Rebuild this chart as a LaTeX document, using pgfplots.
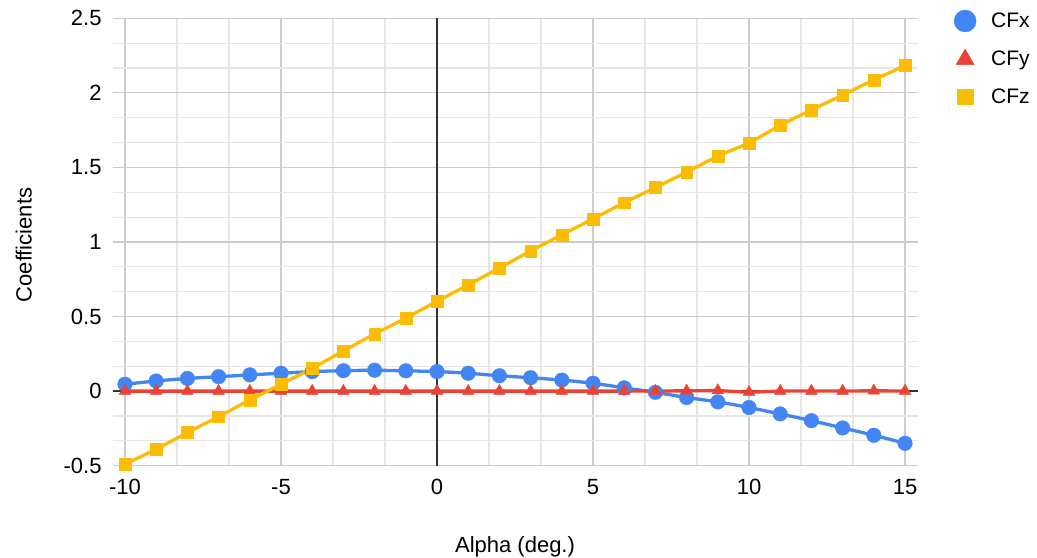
\documentclass[border=0pt]{standalone}
\usepackage{fontspec}
\setmainfont{Liberation Sans}
\usepackage{pgfplots}
\pgfplotsset{compat=1.18}
\definecolor{cfx}{HTML}{4285F4}
\definecolor{cfy}{HTML}{EA4335}
\definecolor{cfz}{HTML}{FBBC04}
\definecolor{majg}{HTML}{CCCCCC}
\definecolor{ming}{HTML}{E6E6E6}
\begin{document}
\begin{tikzpicture}
\useasboundingbox (-112.7bp,-92.3bp) rectangle (924.3bp,465.7bp);
\begin{axis}[
  scale only axis, width=805bp, height=447.4bp,
  xmin=-10.394, xmax=15.406, ymin=-0.5, ymax=2.5,
  xtick={-10,-5,...,15}, ytick={-0.5,0,...,2.5},
  minor x tick num=2, minor y tick num=2,
  grid=both,
  major grid style={majg, line width=1.1bp},
  minor grid style={ming, line width=1.1bp},
  axis line style={draw=none},
  major tick length=0pt, minor tick length=0pt,
  extra x ticks={0}, extra y ticks={0},
  extra x tick labels={}, extra y tick labels={},
  extra tick style={major grid style={black!80, line width=1.3bp}},
  ticklabel style={font=\fontsize{22bp}{26bp}\selectfont, inner sep=0pt},
  /pgf/number format/assume math mode=true,
  xticklabel style={anchor=north, yshift=-13.3bp},
  yticklabel style={anchor=east, xshift=-11bp},
  xlabel={Alpha (deg.)}, ylabel={Coefficients},
  label style={font=\fontsize{22bp}{26bp}\selectfont},
  xlabel style={at={(axis description cs:0.4998,-0.1929)}, anchor=base},
  ylabel style={at={(axis description cs:-0.1006,0.4933)}, anchor=base, rotate=0},
  legend style={draw=none, fill=none, at={(axis description cs:1.045,1.019)}, anchor=north west,
    inner sep=0pt, row sep=17bp, column sep=13bp,
    font=\fontsize{21bp}{25bp}\selectfont, nodes={inner sep=2bp}},
  legend cell align=left,
  legend image code/.code={\draw[mark repeat=2,mark phase=2,#1] plot coordinates {(0bp,0bp) (11bp,0bp) (22bp,0bp)};},
]
\addplot[cfx, line width=3.3bp, smooth, mark=*, mark size=7.3bp, mark options={solid, line width=0.4bp}, forget plot] table {
x y
-10 0.046
-9 0.068
-8 0.085
-7 0.097
-6 0.109
-5 0.120
-4 0.131
-3 0.137
-2 0.140
-1 0.136
0 0.131
1 0.120
2 0.103
3 0.090
4 0.074
5 0.053
6 0.022
7 -0.008
8 -0.043
9 -0.072
10 -0.110
11 -0.153
12 -0.198
13 -0.247
14 -0.296
15 -0.350
};
\addplot[cfy, line width=3.3bp, mark=triangle*, mark size=6.8bp, mark options={solid, line width=0.4bp}, forget plot] table {
x y
-10 0
-9 0
-8 0
-7 0
-6 0
-5 0
-4 0
-3 0
-2 0
-1 0
0 0
1 0
2 0
3 0
4 0
5 0
6 0
7 0.001
8 0.002
9 0.004
10 -0.008
11 0.001
12 0.001
13 0.001
14 0.002
15 0.001
};
\addplot[cfz, line width=3.3bp, mark=square*, mark size=5.9bp, mark options={solid, line width=0.4bp}, forget plot] table {
x y
-10 -0.490
-9 -0.390
-8 -0.278
-7 -0.171
-6 -0.059
-5 0.046
-4 0.152
-3 0.270
-2 0.384
-1 0.489
0 0.603
1 0.712
2 0.826
3 0.940
4 1.048
5 1.155
6 1.264
7 1.365
8 1.468
9 1.577
10 1.663
11 1.783
12 1.886
13 1.985
14 2.087
15 2.183
};
\addlegendimage{only marks, mark=*, cfx, mark size=11bp, mark options={line width=0.4bp}}
\addlegendentry{CFx}
\addlegendimage{only marks, mark=triangle*, cfy, mark size=10.4bp, mark options={line width=0.4bp}}
\addlegendentry{CFy}
\addlegendimage{only marks, mark=square*, cfz, mark size=7.6bp, mark options={line width=0.4bp}}
\addlegendentry{CFz}
\end{axis}
\end{tikzpicture}
\end{document}
